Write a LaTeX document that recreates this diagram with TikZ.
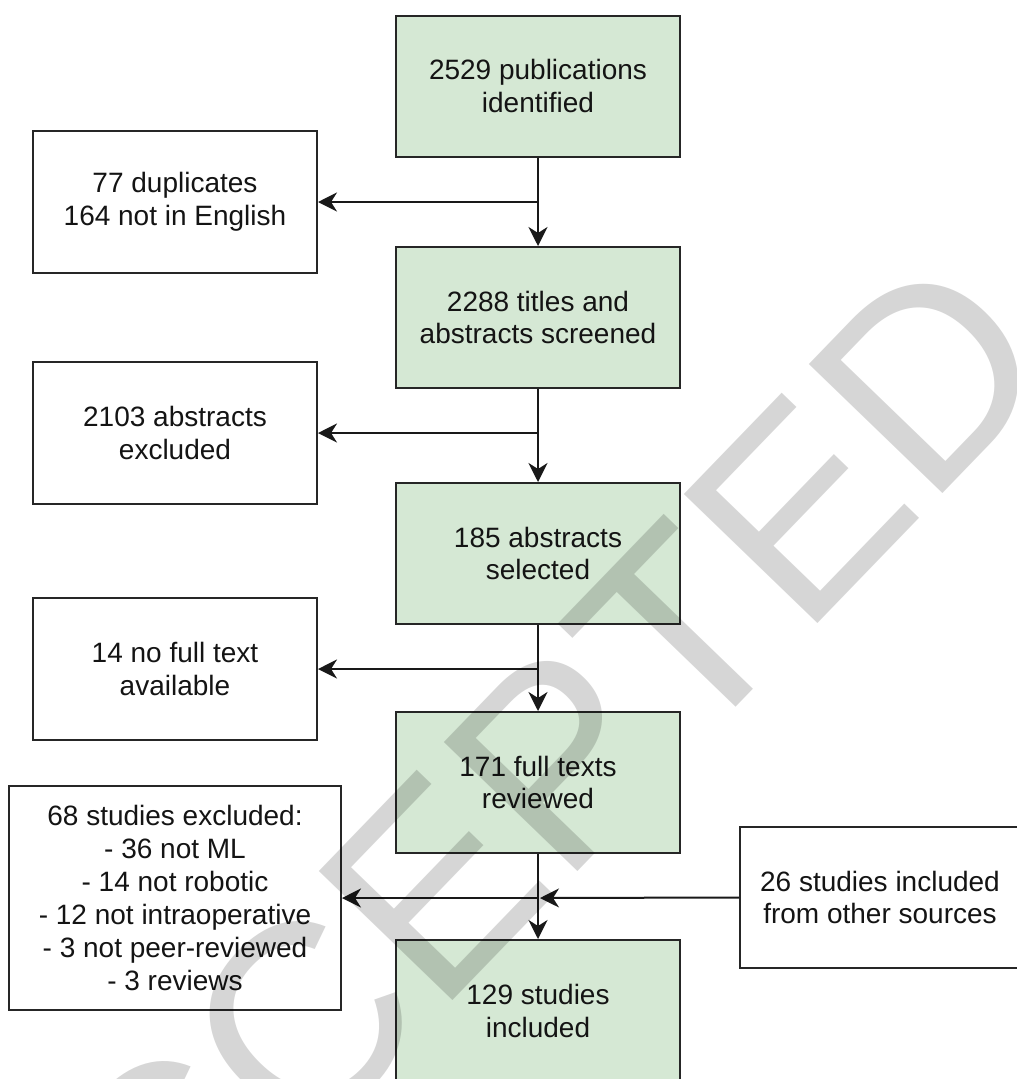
\documentclass[tikz,border=0pt]{standalone}
\usepackage{fontspec}
\setmainfont{Liberation Sans}
\usetikzlibrary{arrows.meta}
\definecolor{boxgreen}{HTML}{D5E8D4}
\begin{document}
\begin{tikzpicture}[x=1pt,y=-1pt,
  flowbox/.style={draw=black!85, line width=2pt, align=center, inner sep=0pt,
    font=\fontsize{28}{32.5}\selectfont, text=black!92},
  gbox/.style={flowbox, fill=boxgreen, minimum width=284pt, minimum height=141pt},
  wbox/.style={flowbox, fill=white, minimum width=284pt, minimum height=142pt},
  arr/.style={line width=2pt, draw=black!90, -{Stealth[length=19pt,width=19pt,inset=6pt]}},
  ]
\useasboundingbox (0,0) rectangle (1017,1079);
\fill[white] (0,0) rectangle (1017,1079);

% main column
\node[gbox] (b1) at (538,86)    {2529 publications\\identified};
\node[gbox] (b2) at (538,317.5) {2288 titles and\\abstracts screened};
\node[gbox] (b3) at (538,553.5) {185 abstracts\\selected};
\node[gbox] (b4) at (538,782.5) {171 full texts\\reviewed};
\node[gbox, minimum height=142pt] (b5) at (538,1011) {129 studies\\included};

% side boxes
\node[wbox] (l1) at (175,202) {77 duplicates\\164 not in English};
\node[wbox] (l2) at (175,433) {2103 abstracts\\excluded};
\node[wbox] (l3) at (175,669) {14 no full text\\available};
\node[wbox, minimum width=332pt, minimum height=224pt, font=\fontsize{28}{33}\selectfont] (l4) at (175,898)
  {68 studies excluded:\\- 36 not ML\\- 14 not robotic\\- 12 not intraoperative\\- 3 not peer-reviewed\\- 3 reviews};
\node[wbox, minimum width=280pt, minimum height=141pt] (r1) at (880,897.5) {26 studies included\\from other sources};

% vertical flow
\draw[arr] (b1) -- (b2);
\draw[arr] (b2) -- (b3);
\draw[arr] (b3) -- (b4);
\draw[arr] (b4) -- (b5);

% branches
\draw[arr] (l1.east -| b1.south) -- (l1.east);
\draw[arr] (l2.east -| b2.south) -- (l2.east);
\draw[arr] (l3.east -| b3.south) -- (l3.east);
\coordinate (m4) at (l4.east -| b4.south);
\draw[arr] (m4) -- (l4.east);
\draw[arr] (r1.west) -- ([xshift=2pt]m4);

% watermark
\node[rotate=46, anchor=base, inner sep=0pt, text=black, text opacity=0.16,
  font=\fontsize{270}{270}\selectfont] (wm) at (552,898) {ACCEPTED};
\end{tikzpicture}
\end{document}
